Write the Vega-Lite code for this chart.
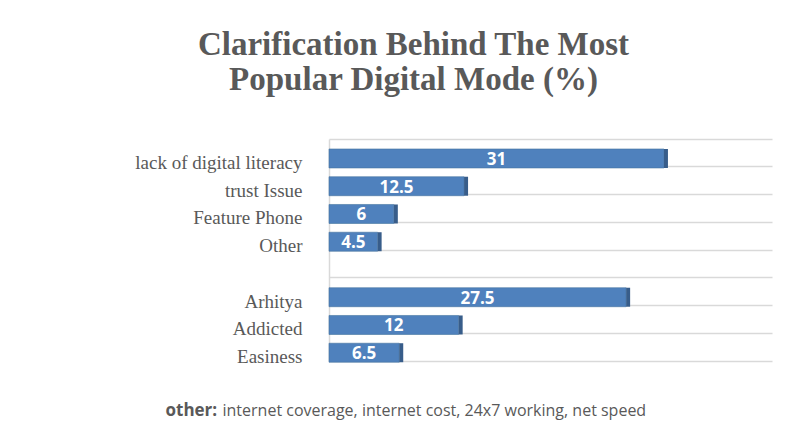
{
  "$schema": "https://vega.github.io/schema/vega-lite/v6.json",
  "width": 443,
  "height": 222,
  "autosize": {"type": "none"},
  "padding": {"left": 329, "top": 139, "right": 29, "bottom": 73},
  "background": "white",
  "config": {"view": {"stroke": null}},
  "title": {
    "text": ["Clarification Behind The Most", "Popular Digital Mode (%)"],
    "font": "Liberation Serif",
    "fontSize": 33,
    "fontWeight": "bold",
    "color": "#595959",
    "anchor": "middle",
    "frame": "group",
    "dx": -137,
    "offset": 42,
    "lineHeight": 35
  },
  "data": {
    "values": [
      {"c": "lack of digital literacy", "v": 31},
      {"c": "trust Issue", "v": 12.5},
      {"c": "Feature Phone", "v": 6},
      {"c": "Other", "v": 4.5},
      {"c": "Arhitya", "v": 27.5},
      {"c": "Addicted", "v": 12},
      {"c": "Easiness", "v": 6.5}
    ]
  },
  "encoding": {
    "y": {
      "field": "c",
      "type": "nominal",
      "sort": null,
      "scale": {
        "domain": ["lack of digital literacy", "trust Issue", "Feature Phone", "Other", " ", "Arhitya", "Addicted", "Easiness"],
        "paddingInner": 0,
        "paddingOuter": 0
      },
      "axis": {
        "title": "internet coverage, internet cost, 24x7 working, net speed",
        "titleAngle": 0,
        "titleAlign": "left",
        "titleBaseline": "middle",
        "titleX": -107,
        "titleY": 271,
        "titleFont": "Open Sans",
        "titleFontSize": 16,
        "titleFontWeight": "normal",
        "titleColor": "#595959",
        "labelFont": "Liberation Serif",
        "labelFontSize": 19,
        "labelColor": "#595959",
        "labelPadding": 27,
        "labelOffset": 10,
        "labelLimit": 400,
        "ticks": false,
        "tickSize": 0,
        "bandPosition": 0,
        "domainColor": "#d9d9d9",
        "domainWidth": 1.5,
        "grid": true,
        "gridColor": "#d9d9d9",
        "gridWidth": 1.5
      }
    }
  },
  "layer": [
    {
      "mark": {"type": "bar", "color": "#4f81bd", "yOffset": 5.6, "stroke": "#44739f", "strokeWidth": 0.6},
      "encoding": {
        "x": {
          "field": "v",
          "type": "quantitative",
          "scale": {"domain": [0, 41], "nice": false},
          "axis": {
            "title": "other:",
            "titleFont": "Open Sans",
            "titleFontSize": 17,
            "titleFontWeight": "bold",
            "titleColor": "#595959",
            "titleX": -164,
            "titleY": 49,
            "titleAlign": "left",
            "titleBaseline": "middle",
            "labels": false,
            "ticks": false,
            "grid": false,
            "domain": true,
            "domainColor": "#d9d9d9",
            "domainWidth": 1.5
          }
        },
        "size": {"value": 19}
      }
    },
    {
      "mark": {"type": "bar", "color": "#385d8a", "x2Offset": 4, "yOffset": 5.6},
      "encoding": {
        "x": {"field": "v", "type": "quantitative", "scale": {"domain": [0, 41], "nice": false}, "axis": null},
        "x2": {"field": "v"},
        "size": {"value": 19}
      }
    },
    {
      "mark": {"type": "text", "color": "white", "font": "Open Sans", "fontSize": 17, "fontWeight": "bold", "baseline": "middle", "align": "center", "yOffset": 7},
      "encoding": {
        "x": {"field": "v", "type": "quantitative", "scale": {"domain": [0, 82], "nice": false}, "axis": null},
        "text": {"field": "v", "type": "quantitative"}
      }
    }
  ],
  "resolve": {"scale": {"x": "independent"}}
}
